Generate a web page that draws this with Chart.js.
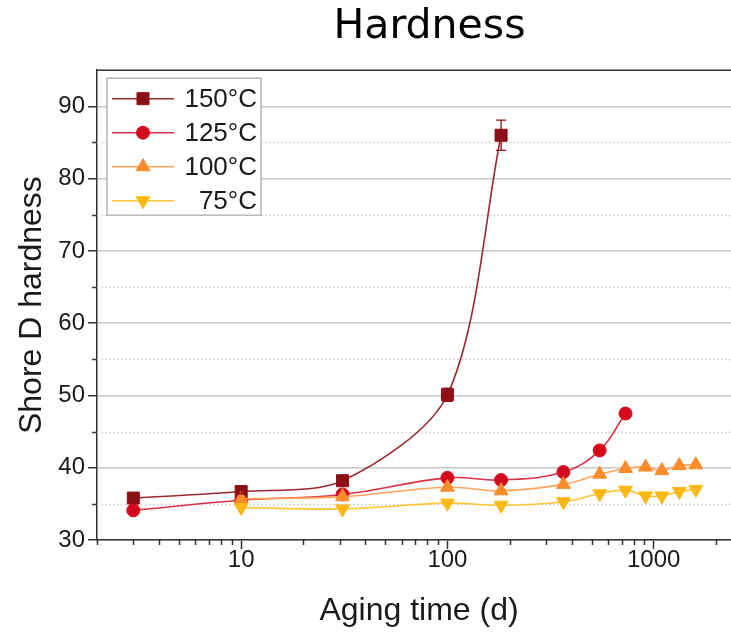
<!DOCTYPE html>
<html>
<head>
<meta charset="utf-8">
<title>Hardness</title>
<script src="https://cdn.jsdelivr.net/npm/chart.js@4.4.1/dist/chart.umd.min.js"></script>
<style>
  html, body { margin: 0; padding: 0; overflow: hidden; background: #fff; }
  #wrap { width: 731px; height: 633px; overflow: hidden; }
</style>
</head>
<body>
<div id="wrap"><canvas id="chart" width="858" height="633"></canvas></div>
<script>
// Shore D hardness vs. aging time at four temperatures
const seriesLabels = ['150°C', '125°C', '100°C', '75°C'];

const days150 = [3, 10, 31, 100, 182];
const hard150 = [35.8, 36.7, 38.2, 50.1, 86.0];
const err150  = [0.3, 0.3, 0.4, 0.9, 2.1];

const days125 = [3, 10, 31, 100, 182, 365, 547, 730];
const hard125 = [34.1, 35.5, 36.3, 38.6, 38.3, 39.4, 42.4, 47.5];

const days100 = [10, 31, 100, 182, 365, 547, 730, 913, 1095, 1330, 1600];
const hard100 = [35.7, 36.0, 37.3, 36.8, 37.7, 39.1, 39.9, 40.1, 39.6, 40.3, 40.4];

const days75 = [10, 31, 100, 182, 365, 547, 730, 913, 1095, 1330, 1600];
const hard75 = [34.5, 34.3, 35.1, 34.8, 35.3, 36.4, 36.9, 36.1, 36.1, 36.7, 37.0];

const xTickValues = [10, 100, 1000];
const xMinorValues = [2, 3, 4, 5, 6, 7, 8, 9, 20, 30, 40, 50, 60, 70, 80, 90,
                      200, 300, 400, 500, 600, 700, 800, 900, 2000];
const yTickValues = [30, 40, 50, 60, 70, 80, 90];
const yMinorValues = [35, 45, 55, 65, 75, 85];

const pts = (xs, ys) => xs.map((x, i) => ({ x: x, y: ys[i] }));

const AXIS = '#333333';
const TEXT = '#1a1a1a';
const SANS = '"Liberation Sans", Arial, sans-serif';

// the title sits a little right of the canvas centre
const titleOffset = {
  id: 'titleOffset',
  afterLayout(chart) {
    const t = chart.titleBlock;
    if (t) { t.left += 59; t.right += 59; }
  }
};

// dotted minor grid lines, drawn under the data
const minorGrid = {
  id: 'minorGrid',
  beforeDatasetsDraw(chart) {
    const { ctx, chartArea: a, scales: { y } } = chart;
    ctx.save();
    ctx.strokeStyle = '#d6d6d6';
    ctx.lineWidth = 1.5;
    ctx.setLineDash([2, 2]);
    yMinorValues.forEach(v => {
      const py = Math.round(y.getPixelForValue(v)) + 0.5;
      ctx.beginPath(); ctx.moveTo(a.left, py); ctx.lineTo(a.right, py); ctx.stroke();
    });
    ctx.restore();
  }
};

// error bars from each dataset's errors array
const errorBars = {
  id: 'errorBars',
  afterDatasetsDraw(chart) {
    const { ctx, scales: { y } } = chart;
    chart.data.datasets.forEach((ds, di) => {
      if (!ds.errors) return;
      const meta = chart.getDatasetMeta(di);
      ctx.save();
      ctx.strokeStyle = ds.pointBorderColor;
      ctx.lineWidth = 1.3;
      meta.data.forEach((el, i) => {
        const v = ds.data[i].y, e = ds.errors[i];
        const top = y.getPixelForValue(v + e), bot = y.getPixelForValue(v - e);
        ctx.beginPath();
        ctx.moveTo(el.x, top); ctx.lineTo(el.x, bot);
        ctx.moveTo(el.x - 5, top); ctx.lineTo(el.x + 5, top);
        ctx.moveTo(el.x - 5, bot); ctx.lineTo(el.x + 5, bot);
        ctx.stroke();
      });
      ctx.restore();
    });
  }
};

// minor tick marks, top frame line and the boxed key
const frameAndKey = {
  id: 'frameAndKey',
  afterDraw(chart) {
    const { ctx, chartArea: a, scales: { x, y } } = chart;
    ctx.save();
    ctx.strokeStyle = AXIS;
    ctx.lineWidth = 1.5;
    ctx.beginPath();
    xMinorValues.forEach(v => {
      const px = Math.round(x.getPixelForValue(v)) + 0.5;
      ctx.moveTo(px, a.bottom); ctx.lineTo(px, a.bottom + 5);
    });
    yMinorValues.forEach(v => {
      const py = Math.round(y.getPixelForValue(v)) + 0.5;
      ctx.moveTo(a.left, py); ctx.lineTo(a.left - 5, py);
    });
    ctx.moveTo(a.left, a.top); ctx.lineTo(a.right, a.top);
    ctx.stroke();

    // key
    const bx = a.left + 10, by = a.top + 8, bw = 154, bh = 137;
    ctx.fillStyle = '#ffffff';
    ctx.fillRect(bx, by, bw, bh);
    ctx.strokeStyle = '#b8b8b8';
    ctx.lineWidth = 1.5;
    ctx.strokeRect(bx, by, bw, bh);
    chart.data.datasets.forEach((ds, i) => {
      const ry = a.top + 28.5 + i * 34;
      ctx.strokeStyle = ds.borderColor;
      ctx.lineWidth = ds.borderWidth;
      ctx.beginPath(); ctx.moveTo(a.left + 15, ry); ctx.lineTo(a.left + 77, ry); ctx.stroke();
      ctx.fillStyle = ds.pointBackgroundColor;
      ctx.strokeStyle = ds.pointBorderColor;
      ctx.lineWidth = 1;
      Chart.helpers.drawPoint(ctx, {
        pointStyle: ds.pointStyle, radius: ds.pointRadius,
        rotation: ds.pointRotation || 0, borderWidth: 1
      }, a.left + 46, ry);
      ctx.fillStyle = TEXT;
      ctx.font = '26px ' + SANS;
      ctx.textAlign = 'right';
      ctx.textBaseline = 'middle';
      ctx.fillText(ds.label, a.left + 160, ry + 1);
    });
    ctx.restore();
  }
};

function series(label, data, lineColor, markColor, style, radius, rotation, order) {
  return {
    label: label, data: data,
    borderColor: lineColor, borderWidth: 1.6,
    pointBackgroundColor: markColor, pointBorderColor: markColor, pointBorderWidth: 1,
    pointStyle: style, pointRadius: radius, pointRotation: rotation,
    tension: 0.4, fill: false, order: order
  };
}

const ds150 = series(seriesLabels[0], pts(days150, hard150), '#9b2a2e', '#8c1016', 'rect', 8.5, 0, 3);
ds150.errors = err150;
ds150.tension = 0.3;
const ds125 = series(seriesLabels[1], pts(days125, hard125), '#da3044', '#d50a1e', 'circle', 6.5, 0, 2);
const ds100 = series(seriesLabels[2], pts(days100, hard100), '#fda45e', '#fb8c2c', 'triangle', 8, 0, 1);
const ds75  = series(seriesLabels[3], pts(days75, hard75), '#fcc43a', '#fdb813', 'triangle', 8, 180, 0);

new Chart(document.getElementById('chart'), {
  type: 'line',
  data: { datasets: [ds150, ds125, ds100, ds75] },
  plugins: [titleOffset, minorGrid, errorBars, frameAndKey],
  options: {
    responsive: false,
    animation: false,
    layout: { padding: { left: 0, right: 117, top: 0, bottom: 0 } },
    plugins: {
      legend: { display: false },
      tooltip: { enabled: false },
      title: {
        display: true, text: 'Hardness', color: '#000',
        font: { family: '"DejaVu Sans", sans-serif', size: 41, weight: 'normal' },
        padding: { top: 3, bottom: 18 }
      }
    },
    scales: {
      x: {
        type: 'logarithmic', min: 2, max: 2650,
        afterBuildTicks: s => { s.ticks = xTickValues.map(v => ({ value: v })); },
        afterFit: s => { s.height = 93; },
        ticks: {
          autoSkip: false, maxRotation: 0, padding: -3, color: TEXT,
          font: { family: SANS, size: 24 },
          callback: v => String(v)
        },
        grid: { drawOnChartArea: false, tickLength: 9, tickColor: AXIS, tickWidth: 1.5 },
        border: { color: AXIS, width: 1.5 },
        title: {
          display: true, text: 'Aging time (d)', color: TEXT,
          font: { family: SANS, size: 32 }, padding: { top: 0, bottom: 3 }
        }
      },
      y: {
        min: 30, max: 95,
        afterBuildTicks: s => { s.ticks = yTickValues.map(v => ({ value: v })); },
        afterFit: s => { s.width = 97; },
        ticks: { padding: 3, color: TEXT, font: { family: SANS, size: 24 } },
        grid: { color: '#c8c8c8', lineWidth: 1.5, tickLength: 9, tickColor: AXIS, tickWidth: 1.5 },
        border: { color: AXIS, width: 1.5 },
        title: {
          display: true, text: 'Shore D hardness', color: TEXT,
          font: { family: SANS, size: 32 }, padding: { top: 13, bottom: 0 }
        }
      }
    }
  }
});
</script>
</body>
</html>
